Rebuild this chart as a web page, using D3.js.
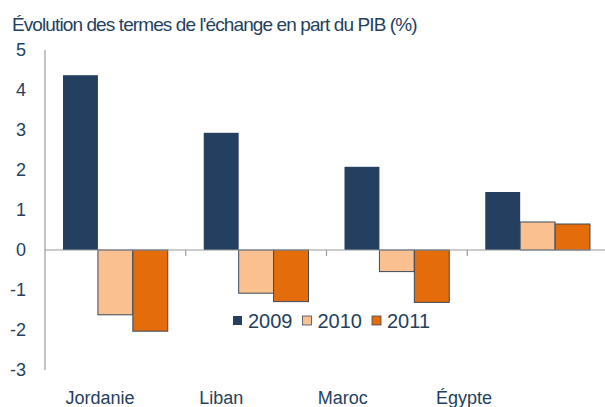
<!DOCTYPE html>
<meta charset="utf-8">
<style>
body { margin: 0; background: #fff; }
text { font-family: "Liberation Sans", Arial, sans-serif; fill: #243f60; }
.axis-line { stroke: #9a9a9a; stroke-width: 1.2; }
</style>
<script src="https://d3js.org/d3.v7.min.js"></script>
<svg id="chart" width="605" height="407"></svg>
<script>
var countries = ["Jordanie", "Liban", "Maroc", "Égypte"];
var years = ["2009", "2010", "2011"];
var v2009 = [4.37, 2.93, 2.08, 1.45];
var v2010 = [-1.62, -1.08, -0.54, 0.70];
var v2011 = [-2.03, -1.29, -1.31, 0.65];
var yTicks = [5, 4, 3, 2, 1, 0, -1, -2, -3];
var colors = ["#243f60", "#fac090", "#e46c0a"];
var title = "Évolution des termes de l'échange en part du PIB (%)";

var series = [v2009, v2010, v2011];
var svg = d3.select("#chart");

var y = d3.scaleLinear().domain([-3, 5]).range([370, 50]);
var x0 = d3.scaleBand().domain(countries).range([45, 608]);
var x1 = d3.scaleBand().domain(years).range([18, x0.bandwidth() - 18]);
var xl = d3.scalePoint().domain(countries).range([100, 464]);
var color = d3.scaleOrdinal().domain(years).range(colors);

// title
svg.append("text")
    .attr("x", 12).attr("y", 31)
    .attr("font-size", 19)
    .attr("letter-spacing", -0.9)
    .text(title);

// y labels
svg.append("g").selectAll("text")
  .data(yTicks)
  .enter().append("text")
    .attr("x", 26)
    .attr("y", function(d) { return y(d); })
    .attr("dy", "0.36em")
    .attr("text-anchor", "end")
    .attr("font-size", 18)
    .text(function(d) { return d; });

// bars
var rows = [];
countries.forEach(function(c, i) {
  years.forEach(function(yr, j) {
    rows.push({country: c, year: yr, value: series[j][i]});
  });
});

svg.append("g").selectAll("rect")
  .data(rows)
  .enter().append("rect")
    .attr("x", function(d) { return x0(d.country) + x1(d.year); })
    .attr("y", function(d) { return y(Math.max(0, d.value)); })
    .attr("width", x1.bandwidth())
    .attr("height", function(d) { return Math.abs(y(d.value) - y(0)); })
    .attr("fill", function(d) { return color(d.year); })
    .attr("stroke", function(d) { return d.year === "2009" ? "none" : "#3b4a5e"; })
    .attr("stroke-width", 1);

// axes
svg.append("line").attr("class", "axis-line")
    .attr("x1", 45).attr("x2", 45)
    .attr("y1", y(5)).attr("y2", y(-3));
svg.append("line").attr("class", "axis-line")
    .attr("x1", 45).attr("x2", 605)
    .attr("y1", y(0)).attr("y2", y(0));
svg.append("g").selectAll("line")
  .data(countries.slice(1))
  .enter().append("line")
    .attr("class", "axis-line")
    .attr("x1", function(d) { return x0(d); })
    .attr("x2", function(d) { return x0(d); })
    .attr("y1", y(0)).attr("y2", y(0) + 6);

// category labels
svg.append("g").selectAll("text")
  .data(countries)
  .enter().append("text")
    .attr("x", function(d) { return xl(d); })
    .attr("y", 404)
    .attr("text-anchor", "middle")
    .attr("font-size", 18)
    .text(function(d) { return d; });

// legend
var leg = svg.append("g").attr("transform", "translate(233,321)");
var item = leg.selectAll("g")
  .data(years)
  .enter().append("g")
    .attr("transform", function(d, i) { return "translate(" + (i * 69.5) + ",0)"; });
item.append("rect")
    .attr("x", 0).attr("y", -5)
    .attr("width", 9).attr("height", 9)
    .attr("fill", function(d) { return color(d); })
    .attr("stroke", function(d) { return d === "2009" ? "none" : "#3b4a5e"; })
    .attr("stroke-width", 0.8);
item.append("text")
    .attr("x", 15)
    .attr("dy", "0.36em")
    .attr("font-size", 20)
    .text(function(d) { return d; });
</script>
